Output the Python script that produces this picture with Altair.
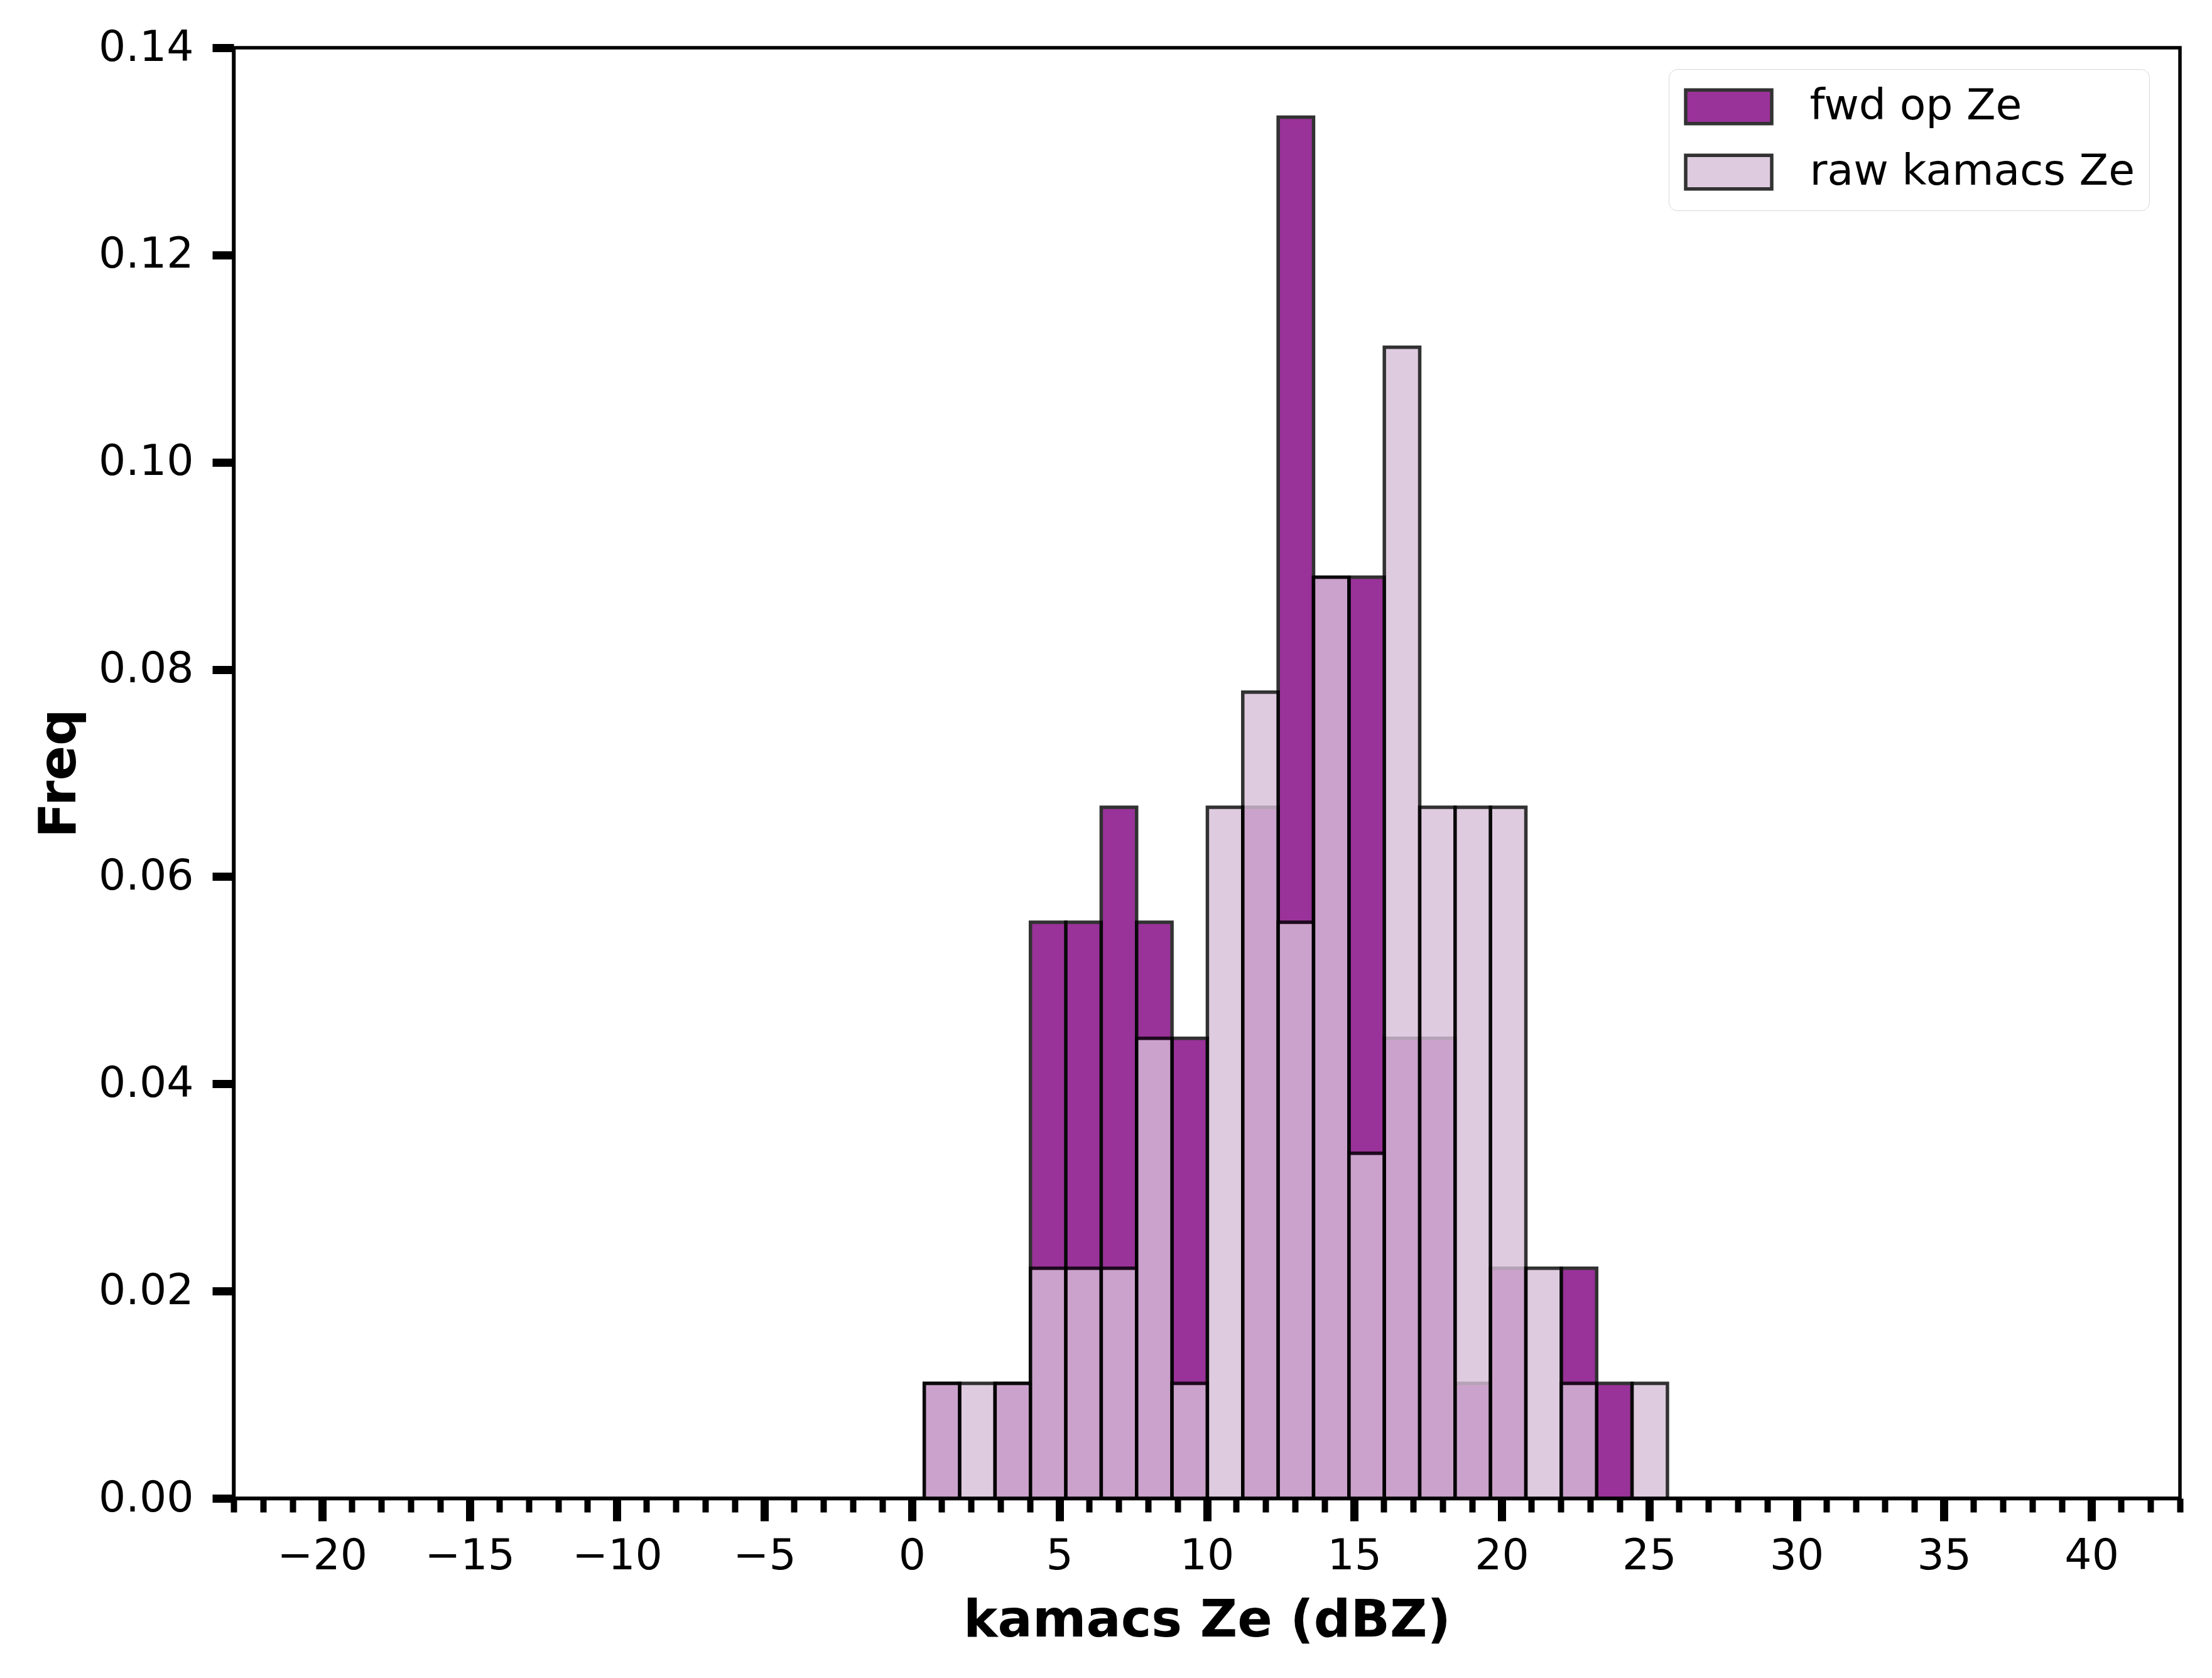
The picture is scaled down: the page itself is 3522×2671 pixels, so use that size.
import altair as alt
import pandas as pd

# ---- data ----
bin_start = [0.42, 1.62, 2.82, 4.02, 5.22, 6.42, 7.62, 8.82, 10.02, 11.22, 12.42,
             13.62, 14.82, 16.02, 17.22, 18.42, 19.62, 20.82, 22.02, 23.22, 24.42]
bin_end = [1.62, 2.82, 4.02, 5.22, 6.42, 7.62, 8.82, 10.02, 11.22, 12.42, 13.62,
           14.82, 16.02, 17.22, 18.42, 19.62, 20.82, 22.02, 23.22, 24.42, 25.62]
fwd_op_ze = [0.0111, 0.0, 0.0111, 0.0556, 0.0556, 0.0667, 0.0556, 0.0444, 0.0, 0.0667, 0.1333,
             0.0889, 0.0889, 0.0444, 0.0444, 0.0111, 0.0222, 0.0, 0.0222, 0.0111, 0.0]
raw_kamacs_ze = [0.0111, 0.0111, 0.0111, 0.0222, 0.0222, 0.0222, 0.0444, 0.0111, 0.0667, 0.0778, 0.0556,
                 0.0889, 0.0333, 0.1111, 0.0667, 0.0667, 0.0667, 0.0222, 0.0111, 0.0, 0.0111]
series_names = ["fwd op Ze", "raw kamacs Ze"]
series_colors = ["purple", "thistle"]
x_major_ticks = [-20, -15, -10, -5, 0, 5, 10, 15, 20, 25, 30, 35, 40]
x_minor_ticks = [-23, -22, -21, -20, -19, -18, -17, -16, -15, -14, -13, -12, -11, -10, -9, -8, -7, -6,
                 -5, -4, -3, -2, -1, 0, 1, 2, 3, 4, 5, 6, 7, 8, 9, 10, 11, 12, 13, 14, 15, 16, 17, 18,
                 19, 20, 21, 22, 23, 24, 25, 26, 27, 28, 29, 30, 31, 32, 33, 34, 35, 36, 37, 38, 39,
                 40, 41, 42, 43]
y_ticks = [0.0, 0.02, 0.04, 0.06, 0.08, 0.10, 0.12, 0.14]

rows = []
for name, vals in zip(series_names, [fwd_op_ze, raw_kamacs_ze]):
    for s, e, v in zip(bin_start, bin_end, vals):
        if v > 0:
            rows.append({"series": name, "start": s, "end": e, "freq": v})
df = pd.DataFrame(rows)

FONT = "DejaVu Sans"
W, H = 3099, 2309

xscale = alt.Scale(domain=[-23, 43], nice=False, zero=False)
yscale = alt.Scale(domain=[0, 0.14], nice=False)

color = alt.Color(
    "series:N",
    scale=alt.Scale(domain=series_names, range=series_colors),
    legend=alt.Legend(
        title=None,
        orient="none",
        legendX=2285,
        legendY=34,
        padding=23,
        strokeColor="#d6d6d6",
        fillColor="white",
        cornerRadius=14,
        symbolType="M-2,-0.78H2V0.78H-2Z",
        symbolSize=4692,
        symbolOffset=35.5,
        symbolStrokeColor="black",
        symbolStrokeWidth=5.5,
        symbolOpacity=0.8,
        labelFont=FONT,
        labelFontSize=68,
        labelColor="black",
        labelOffset=92,
        labelLimit=0,
        rowPadding=28,
    ),
)

y_axis = alt.Axis(
    values=y_ticks, format=".2f", title="Freq", titleFont=FONT, titleFontSize=82,
    titleFontWeight="bold", titleColor="black", titleAngle=270, titleX=-278, titleY=H / 2,
    titleBaseline="middle", titleAlign="center",
    labelFont=FONT, labelFontSize=68, labelColor="black", labelPadding=30,
    tickSize=34, tickWidth=13, tickColor="black", domainColor="black", domainWidth=5.5,
    grid=False,
)

base = alt.Chart(df).mark_bar(opacity=0.8, stroke="black", strokeWidth=5.5)

fwd_layer = base.transform_filter(alt.datum.series == "fwd op Ze").encode(
    x=alt.X("start:Q", scale=xscale, axis=alt.Axis(
        values=x_major_ticks, format="d", orient="bottom",
        title="kamacs Ze (dBZ)", titleFont=FONT, titleFontSize=82, titleFontWeight="bold",
        titleColor="black", titleY=194, titleBaseline="middle",
        labelFont=FONT, labelFontSize=68, labelColor="black", labelPadding=22,
        tickSize=36, tickWidth=13, tickColor="black", domainColor="black", domainWidth=5.5,
        grid=False, labelFlush=False)),
    x2="end:Q",
    y=alt.Y("freq:Q", scale=yscale, stack=None, axis=y_axis),
    y2=alt.datum(0),
    color=color,
)

raw_layer = base.transform_filter(alt.datum.series == "raw kamacs Ze").encode(
    x=alt.X("start:Q", scale=xscale, axis=alt.Axis(
        values=x_minor_ticks, orient="bottom", labels=False, title=None,
        tickSize=22, tickWidth=10, tickColor="black", domain=False, grid=False)),
    x2="end:Q",
    y=alt.Y("freq:Q", scale=yscale, stack=None, axis=y_axis),
    y2=alt.datum(0),
    color=color,
)

chart = alt.layer(fwd_layer, raw_layer).resolve_scale(x="shared", y="shared", color="shared").resolve_axis(
    x="independent", y="shared"
).properties(
    width=W,
    height=H,
    autosize=alt.AutoSizeParams(type="none"),
    padding={"left": 364, "top": 68, "right": 40, "bottom": 270},
    background="white",
).configure_view(
    stroke="black", strokeWidth=5.5
)

chart.save("out.html", embed_options={"renderer": "svg", "actions": False})
